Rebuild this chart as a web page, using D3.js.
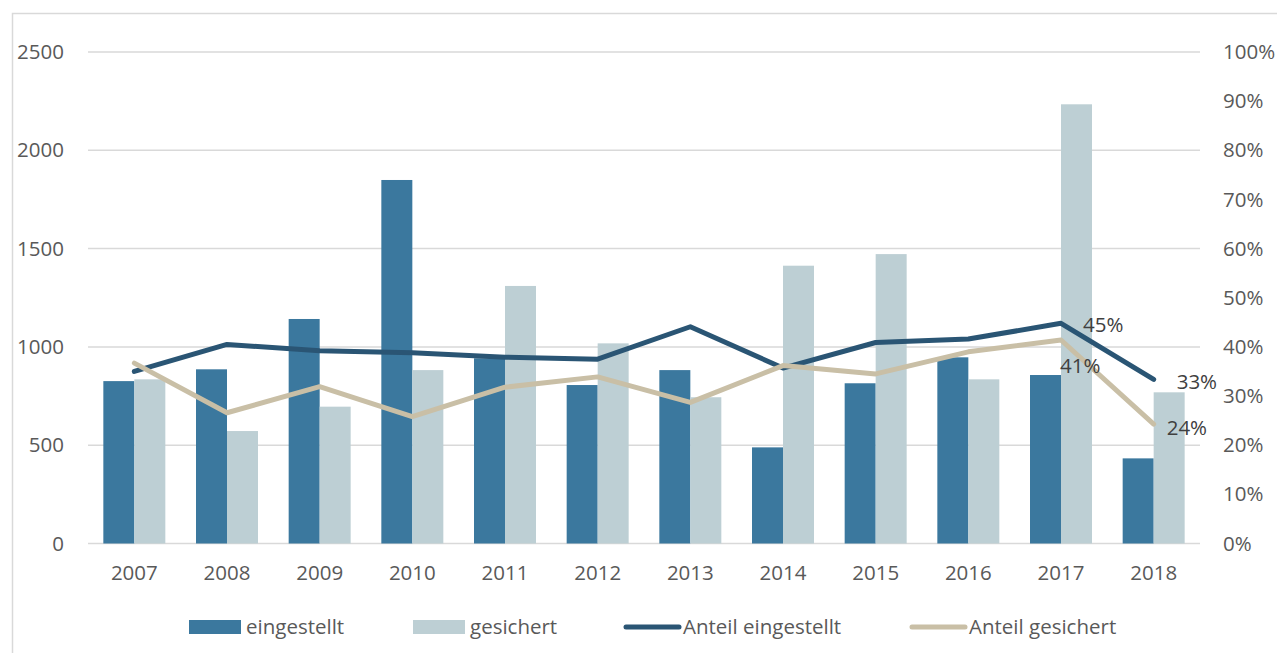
<!DOCTYPE html>
<html>
<head>
<meta charset="utf-8">
<script src="https://cdn.jsdelivr.net/npm/d3@7"></script>
<style>
  body { margin: 0; background: #fff; }
  text { font-family: "Open Sans", sans-serif; }
</style>
</head>
<body>
<div id="chart"></div>
<script>
// data
var years = ["2007", "2008", "2009", "2010", "2011", "2012", "2013", "2014", "2015", "2016", "2017", "2018"];
var eingestellt = [826, 886, 1142, 1849, 942, 806, 882, 489, 815, 947, 857, 433];
var gesichert = [835, 572, 696, 882, 1310, 1018, 744, 1413, 1472, 835, 2234, 769];
var anteilEingestellt = [0.350, 0.405, 0.392, 0.388, 0.379, 0.375, 0.441, 0.357, 0.409, 0.416, 0.448, 0.334];
var anteilGesichert = [0.367, 0.266, 0.319, 0.258, 0.318, 0.339, 0.287, 0.362, 0.345, 0.390, 0.414, 0.243];
var leftTicks = [0, 500, 1000, 1500, 2000, 2500];
var rightTicks = [0, 0.1, 0.2, 0.3, 0.4, 0.5, 0.6, 0.7, 0.8, 0.9, 1.0];

var width = 1277, height = 653;
var colDark = "#3b789e", colLight = "#bdcfd4";
var colLineDark = "#2a5574", colLineLight = "#c9bfa6";
var textCol = "#595959";
var fontSize = "20.5px";

var margin = {left: 88, right: 77, top: 52, bottom: 110};
var x0 = margin.left, x1 = width - margin.right;
var yTop = margin.top, yBottom = height - margin.bottom + 0.5;

var svg = d3.select("#chart").append("svg")
    .attr("width", width)
    .attr("height", height);

// chart border
svg.append("rect")
    .attr("x", 12.5).attr("y", 13.5)
    .attr("width", 1400).attr("height", 800)
    .attr("fill", "none")
    .attr("stroke", "#d9d9d9")
    .attr("stroke-width", 1.5);

var x = d3.scaleBand().domain(years).range([x0, x1]).paddingInner(0.331).paddingOuter(0.1655);
var xSub = d3.scaleBand().domain(["e", "g"]).range([0, x.bandwidth()]);
var yL = d3.scaleLinear().domain([0, 2500]).range([yBottom, yTop]);
var yR = d3.scaleLinear().domain([0, 1]).range([yBottom, yTop]);

// gridlines
svg.append("g").selectAll("line")
    .data(leftTicks)
    .enter().append("line")
    .attr("x1", x0).attr("x2", x1)
    .attr("y1", function(d){ return yL(d); })
    .attr("y2", function(d){ return yL(d); })
    .attr("stroke", "#d9d9d9")
    .attr("stroke-width", 1.5);

// left axis
var axL = svg.append("g")
    .attr("transform", "translate(" + (x0 - 24) + ",0)")
    .call(d3.axisLeft(yL).tickValues(leftTicks).tickSize(0).tickPadding(0).tickFormat(d3.format("d")));
axL.select(".domain").remove();
axL.selectAll("text").attr("fill", textCol).style("font-size", fontSize).attr("font-family", null);

// right axis
var axR = svg.append("g")
    .attr("transform", "translate(" + (x1 + 23) + ",0)")
    .call(d3.axisRight(yR).tickValues(rightTicks).tickSize(0).tickPadding(0).tickFormat(d3.format(".0%")));
axR.select(".domain").remove();
axR.selectAll("text").attr("fill", textCol).style("font-size", fontSize).attr("font-family", null);

// x axis
var axX = svg.append("g")
    .attr("transform", "translate(0," + yBottom + ")")
    .call(d3.axisBottom(x).tickSize(0).tickPadding(22));
axX.select(".domain").remove();
axX.selectAll("text").attr("fill", textCol).style("font-size", fontSize).attr("font-family", null);

// bars
var groups = svg.append("g").selectAll("g")
    .data(years)
    .enter().append("g")
    .attr("transform", function(d){ return "translate(" + x(d) + ",0)"; });

groups.append("rect")
    .attr("x", xSub("e"))
    .attr("width", xSub.bandwidth())
    .attr("y", function(d, i){ return yL(eingestellt[i]); })
    .attr("height", function(d, i){ return yL(0) - yL(eingestellt[i]); })
    .attr("fill", colDark);

groups.append("rect")
    .attr("x", xSub("g"))
    .attr("width", xSub.bandwidth())
    .attr("y", function(d, i){ return yL(gesichert[i]); })
    .attr("height", function(d, i){ return yL(0) - yL(gesichert[i]); })
    .attr("fill", colLight);

// lines
var cx = function(d, i){ return x(years[i]) + x.bandwidth() / 2; };
var lineGen = d3.line().x(cx).y(function(d){ return yR(d); });

svg.append("path")
    .datum(anteilEingestellt)
    .attr("d", lineGen)
    .attr("fill", "none")
    .attr("stroke", colLineDark)
    .attr("stroke-width", 5)
    .attr("stroke-linejoin", "round")
    .attr("stroke-linecap", "round");

svg.append("path")
    .datum(anteilGesichert)
    .attr("d", lineGen)
    .attr("fill", "none")
    .attr("stroke", colLineLight)
    .attr("stroke-width", 5)
    .attr("stroke-linejoin", "round")
    .attr("stroke-linecap", "round");

// data labels on the last two points
var labelData = [
    {v: anteilEingestellt[10], i: 10, dx: 22, dy: 2},
    {v: anteilGesichert[10], i: 10, dx: -1, dy: 26},
    {v: anteilEingestellt[11], i: 11, dx: 23, dy: 2},
    {v: anteilGesichert[11], i: 11, dx: 13, dy: 4}
];
svg.append("g").selectAll("text")
    .data(labelData)
    .enter().append("text")
    .attr("x", function(d){ return cx(null, d.i) + d.dx; })
    .attr("y", function(d){ return yR(d.v) + d.dy; })
    .attr("dy", "0.35em")
    .attr("fill", "#404040")
    .style("font-size", fontSize)
    .text(function(d){ return d3.format(".0%")(d.v); });

// legend
var legendItems = [
    {label: "eingestellt", type: "bar", color: colDark, x: 189},
    {label: "gesichert", type: "bar", color: colLight, x: 413},
    {label: "Anteil eingestellt", type: "line", color: colLineDark, x: 626},
    {label: "Anteil gesichert", type: "line", color: colLineLight, x: 912}
];
var legendY = 627;
var leg = svg.append("g").selectAll("g")
    .data(legendItems)
    .enter().append("g")
    .attr("transform", function(d){ return "translate(" + d.x + "," + legendY + ")"; });

leg.filter(function(d){ return d.type == "bar"; })
    .append("rect")
    .attr("x", 0).attr("y", -7)
    .attr("width", 52).attr("height", 14)
    .attr("fill", function(d){ return d.color; });

leg.filter(function(d){ return d.type == "line"; })
    .append("line")
    .attr("x1", 0).attr("x2", 53)
    .attr("y1", 0).attr("y2", 0)
    .attr("stroke", function(d){ return d.color; })
    .attr("stroke-width", 5)
    .attr("stroke-linecap", "round");

leg.append("text")
    .attr("x", 57)
    .attr("y", 0)
    .attr("dy", "0.35em")
    .attr("fill", textCol)
    .style("font-size", fontSize)
    .text(function(d){ return d.label; });
</script>
</body>
</html>
